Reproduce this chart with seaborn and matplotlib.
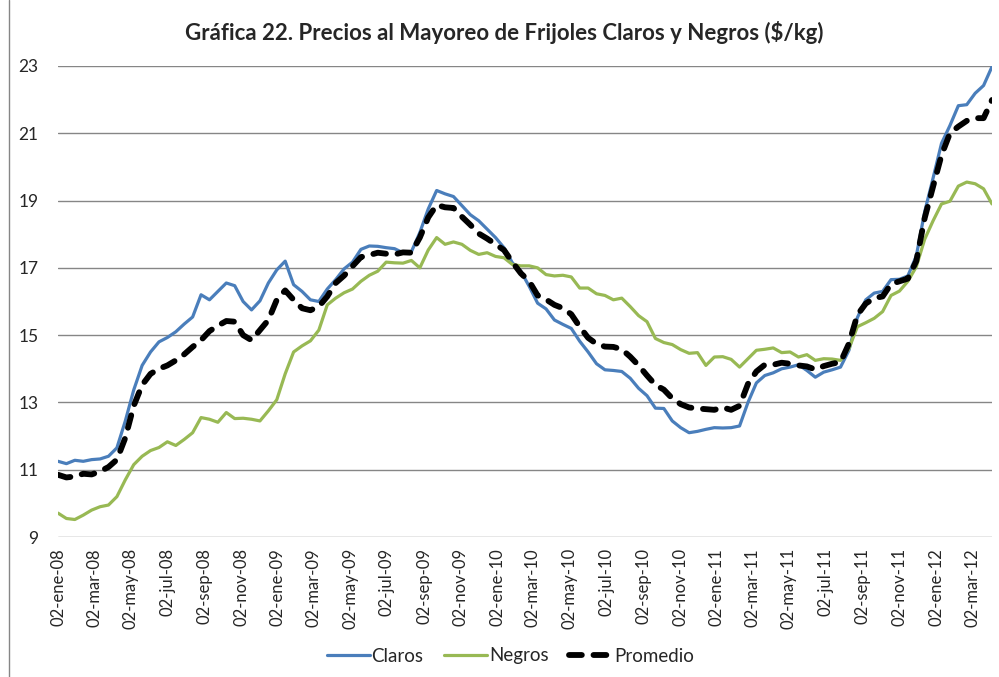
import numpy as np
import pandas as pd
import matplotlib
matplotlib.use("Agg")
import matplotlib.pyplot as plt
from matplotlib.lines import Line2D
import seaborn as sns

# Precios al mayoreo ($/kg), lecturas quincenales desde 02-ene-08
fechas = pd.date_range("2008-01-02", periods=112, freq="14D")

claros = [11.25, 11.18, 11.28, 11.25, 11.30, 11.32, 11.40, 11.65, 12.45, 13.37,
          14.10, 14.50, 14.80, 14.93, 15.10, 15.33, 15.54, 16.20, 16.05, 16.30,
          16.55, 16.47, 16.00, 15.75, 16.02, 16.55, 16.94, 17.20, 16.50, 16.30,
          16.05, 16.00, 16.37, 16.65, 16.97, 17.17, 17.55, 17.65, 17.64, 17.60,
          17.57, 17.45, 17.48, 18.05, 18.75, 19.30, 19.20, 19.12, 18.85, 18.58,
          18.40, 18.15, 17.90, 17.60, 17.15, 16.90, 16.45, 15.95, 15.78, 15.45,
          15.32, 15.20, 14.82, 14.50, 14.15, 13.97, 13.95, 13.92, 13.72, 13.42,
          13.20, 12.83, 12.82, 12.45, 12.25, 12.10, 12.14, 12.20, 12.25, 12.24,
          12.25, 12.30, 13.00, 13.58, 13.80, 13.88, 14.00, 14.05, 14.12, 13.95,
          13.75, 13.90, 13.97, 14.05, 14.55, 15.52, 16.05, 16.25, 16.30, 16.65,
          16.66, 16.76, 17.35, 18.67, 19.67, 20.70, 21.23, 21.82, 21.85, 22.19,
          22.42, 22.98]

negros = [9.71, 9.55, 9.52, 9.65, 9.80, 9.90, 9.95, 10.20, 10.70, 11.15,
          11.40, 11.57, 11.66, 11.83, 11.72, 11.90, 12.10, 12.55, 12.50, 12.41,
          12.70, 12.52, 12.53, 12.50, 12.45, 12.75, 13.08, 13.85, 14.50, 14.68,
          14.83, 15.15, 15.90, 16.10, 16.26, 16.37, 16.60, 16.78, 16.90, 17.17,
          17.15, 17.14, 17.22, 17.00, 17.53, 17.90, 17.70, 17.77, 17.70, 17.52,
          17.40, 17.45, 17.34, 17.30, 17.10, 17.06, 17.06, 17.00, 16.80, 16.76,
          16.78, 16.73, 16.40, 16.40, 16.23, 16.18, 16.05, 16.10, 15.85, 15.58,
          15.40, 14.90, 14.78, 14.72, 14.57, 14.46, 14.48, 14.10, 14.35, 14.36,
          14.28, 14.05, 14.30, 14.55, 14.58, 14.62, 14.48, 14.50, 14.35, 14.42,
          14.25, 14.30, 14.29, 14.25, 14.60, 15.25, 15.37, 15.50, 15.70, 16.18,
          16.31, 16.60, 17.03, 17.85, 18.40, 18.90, 18.98, 19.43, 19.55, 19.50,
          19.35, 18.90]

promedio = [10.85, 10.77, 10.80, 10.88, 10.86, 10.95, 11.08, 11.30, 11.95, 12.90,
            13.52, 13.85, 14.00, 14.10, 14.25, 14.43, 14.65, 14.85, 15.12, 15.28,
            15.42, 15.40, 15.00, 14.85, 15.15, 15.45, 16.05, 16.33, 16.05, 15.80,
            15.74, 15.85, 16.15, 16.55, 16.77, 17.05, 17.32, 17.38, 17.45, 17.42,
            17.40, 17.46, 17.45, 17.90, 18.50, 18.87, 18.80, 18.78, 18.52, 18.28,
            18.02, 17.87, 17.70, 17.53, 17.17, 16.84, 16.60, 16.18, 16.06, 15.90,
            15.80, 15.62, 15.25, 14.92, 14.74, 14.66, 14.65, 14.58, 14.36, 14.10,
            13.80, 13.52, 13.38, 13.12, 12.95, 12.85, 12.82, 12.80, 12.78, 12.85,
            12.78, 12.90, 13.55, 13.92, 14.12, 14.12, 14.18, 14.15, 14.10, 14.07,
            13.98, 14.08, 14.15, 14.20, 14.75, 15.60, 15.94, 16.10, 16.15, 16.52,
            16.60, 16.68, 17.20, 18.48, 19.42, 20.35, 21.00, 21.20, 21.37, 21.45,
            21.45, 21.99]

meses = ["ene", "feb", "mar", "abr", "may", "jun", "jul", "ago", "sep", "oct", "nov", "dic"]
ticks = pd.date_range("2008-01-01", "2012-03-01", freq="2MS") + pd.Timedelta(days=1)
tick_labels = [f"02-{meses[d.month - 1]}-{d.strftime('%y')}" for d in ticks]

df = pd.DataFrame({"fecha": fechas, "Claros": claros, "Negros": negros, "Promedio": promedio})

sns.set_theme(style="white")
plt.rcParams["font.family"] = ["Lato", "DejaVu Sans"]

fig = plt.figure(figsize=(9.99, 6.77), dpi=100)
ax = fig.add_axes([58 / 999, 1 - 537 / 677, 934 / 999, 471 / 677])

sns.lineplot(data=df, x="fecha", y="Claros", ax=ax, color="#4A7EBB", linewidth=2.3, label="Claros")
sns.lineplot(data=df, x="fecha", y="Negros", ax=ax, color="#98B954", linewidth=2.3, label="Negros")
sns.lineplot(data=df, x="fecha", y="Promedio", ax=ax, color="black", linewidth=4.2,
             label="Promedio", dashes=False)
prom_line = ax.get_lines()[-1]
prom_line.set_dashes((2.2, 2.0))
prom_line.set_dash_capstyle("round")

ax.set_xlim(fechas[0], fechas[-1])
ax.set_ylim(9, 23)
ax.set_yticks(range(9, 24, 2))
ax.yaxis.grid(True, color="#868686", linewidth=1.0)
ax.set_axisbelow(True)
ax.set_xticks(ticks)
ax.set_xticklabels(tick_labels, rotation=90, fontsize=12)
ax.tick_params(axis="x", length=0, pad=8)
ax.tick_params(axis="y", length=0, pad=14, labelsize=12.5)
for s in ax.spines.values():
    s.set_visible(False)
ax.set_xlabel("")
ax.set_ylabel("")

fig.suptitle("Gráfica 22. Precios al Mayoreo de Frijoles Claros y Negros ($/kg)",
             x=0.505, y=1 - 33 / 677, va="center", fontsize=16, fontweight="bold")

h, l = ax.get_legend_handles_labels()
ax.legend_.remove()
leg = fig.legend(h, l, loc="center", bbox_to_anchor=(0.511, 1 - 656 / 677), ncol=3,
                 frameon=False, fontsize=13.5, handlelength=2.3, handletextpad=0.1,
                 columnspacing=1.1)

fig.add_artist(Line2D([9 / 999, 9 / 999], [0, 1], color="#868686", linewidth=1.0))

fig.savefig("out.png", dpi=100)
